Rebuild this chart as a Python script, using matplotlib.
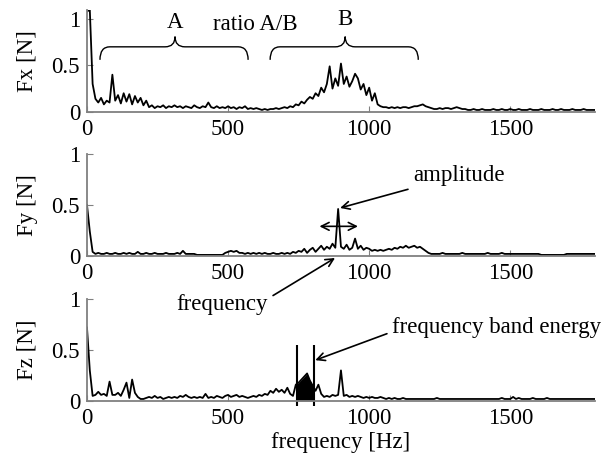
import numpy as np
import matplotlib
matplotlib.use('Agg')
import matplotlib.pyplot as plt
from matplotlib.path import Path
from matplotlib.patches import PathPatch

plt.rcParams['font.family'] = ['Liberation Serif', 'DejaVu Serif']
plt.rcParams['font.size'] = 16.5

# frequency grid [Hz], one value every 10 Hz
freq = np.arange(0, 1801, 10)

# Fx spectrum [N]
fx = [1.08, 1.10, 0.30, 0.14, 0.10, 0.15, 0.08, 0.12, 0.10, 0.40,
      0.12, 0.18, 0.09, 0.20, 0.11, 0.19, 0.08, 0.17, 0.10, 0.15,
      0.07, 0.12, 0.05, 0.07, 0.04, 0.06, 0.05, 0.07, 0.04, 0.06,
      0.05, 0.07, 0.05, 0.06, 0.04, 0.06, 0.05, 0.04, 0.07, 0.05,
      0.04, 0.06, 0.05, 0.10, 0.05, 0.04, 0.06, 0.04, 0.05, 0.04,
      0.06, 0.04, 0.05, 0.03, 0.05, 0.04, 0.06, 0.03, 0.04, 0.03,
      0.04, 0.03, 0.02, 0.03, 0.02, 0.03, 0.03, 0.04, 0.03, 0.04,
      0.05, 0.04, 0.06, 0.05, 0.08, 0.07, 0.11, 0.09, 0.13, 0.16,
      0.14, 0.20, 0.17, 0.26, 0.21, 0.30, 0.49, 0.25, 0.36, 0.28,
      0.52, 0.30, 0.38, 0.27, 0.33, 0.41, 0.36, 0.24, 0.30, 0.18,
      0.26, 0.12, 0.20, 0.08, 0.06, 0.05, 0.05, 0.04, 0.05, 0.04,
      0.05, 0.04, 0.05, 0.05, 0.04, 0.05, 0.06, 0.06, 0.07, 0.08,
      0.06, 0.05, 0.04, 0.03, 0.03, 0.04, 0.03, 0.04, 0.04, 0.03,
      0.04, 0.05, 0.04, 0.03, 0.03, 0.02, 0.02, 0.03, 0.02, 0.02,
      0.03, 0.02, 0.02, 0.02, 0.03, 0.02, 0.02, 0.03, 0.02, 0.02,
      0.03, 0.02, 0.02, 0.03, 0.02, 0.02, 0.02, 0.03, 0.02, 0.02,
      0.02, 0.03, 0.02, 0.02, 0.02, 0.03, 0.02, 0.02, 0.03, 0.02,
      0.02, 0.02, 0.03, 0.02, 0.02, 0.02, 0.03, 0.02, 0.02, 0.02,
      0.02]

# Fy spectrum [N]
fy = [0.50, 0.24, 0.04, 0.02, 0.03, 0.02, 0.02, 0.03, 0.02, 0.02,
      0.03, 0.02, 0.02, 0.03, 0.02, 0.03, 0.02, 0.02, 0.04, 0.02,
      0.02, 0.03, 0.02, 0.02, 0.03, 0.02, 0.02, 0.02, 0.03, 0.02,
      0.02, 0.02, 0.03, 0.02, 0.05, 0.02, 0.02, 0.02, 0.02, 0.01,
      0.01, 0.01, 0.01, 0.01, 0.01, 0.01, 0.01, 0.01, 0.01, 0.03,
      0.04, 0.05, 0.04, 0.05, 0.03, 0.03, 0.02, 0.03, 0.02, 0.03,
      0.02, 0.03, 0.02, 0.03, 0.02, 0.02, 0.03, 0.02, 0.02, 0.03,
      0.02, 0.03, 0.02, 0.04, 0.03, 0.05, 0.04, 0.07, 0.03, 0.06,
      0.08, 0.04, 0.07, 0.10, 0.06, 0.09, 0.07, 0.12, 0.08, 0.46,
      0.09, 0.07, 0.11, 0.06, 0.08, 0.17, 0.07, 0.10, 0.06, 0.08,
      0.07, 0.05, 0.06, 0.05, 0.06, 0.05, 0.06, 0.07, 0.06, 0.08,
      0.07, 0.09, 0.08, 0.10, 0.08, 0.09, 0.10, 0.08, 0.09, 0.07,
      0.05, 0.03, 0.02, 0.02, 0.02, 0.02, 0.03, 0.02, 0.02, 0.02,
      0.02, 0.02, 0.02, 0.03, 0.02, 0.02, 0.02, 0.02, 0.02, 0.02,
      0.02, 0.02, 0.03, 0.02, 0.02, 0.02, 0.02, 0.03, 0.02, 0.02,
      0.02, 0.02, 0.02, 0.02, 0.02, 0.02, 0.02, 0.02, 0.02, 0.02,
      0.02, 0.01, 0.01, 0.01, 0.01, 0.01, 0.01, 0.01, 0.01, 0.01,
      0.02, 0.02, 0.02, 0.02, 0.02, 0.02, 0.02, 0.02, 0.02, 0.02,
      0.02]

# Fz spectrum [N]
fz = [0.72, 0.30, 0.05, 0.06, 0.09, 0.06, 0.07, 0.05, 0.19, 0.06,
      0.06, 0.08, 0.05, 0.11, 0.18, 0.03, 0.21, 0.08, 0.04, 0.02,
      0.02, 0.03, 0.04, 0.03, 0.05, 0.03, 0.04, 0.02, 0.03, 0.04,
      0.03, 0.04, 0.03, 0.05, 0.04, 0.06, 0.04, 0.03, 0.04, 0.03,
      0.04, 0.03, 0.07, 0.03, 0.04, 0.03, 0.05, 0.04, 0.03, 0.05,
      0.06, 0.04, 0.05, 0.06, 0.04, 0.05, 0.04, 0.03, 0.04, 0.05,
      0.04, 0.06, 0.05, 0.07, 0.06, 0.10, 0.08, 0.12, 0.09, 0.11,
      0.08, 0.13, 0.07, 0.05, 0.16, 0.18, 0.21, 0.24, 0.27, 0.20,
      0.15, 0.10, 0.16, 0.07, 0.04, 0.05, 0.04, 0.06, 0.05, 0.06,
      0.30, 0.05, 0.06, 0.04, 0.05, 0.04, 0.05, 0.04, 0.03, 0.04,
      0.03, 0.04, 0.03, 0.03, 0.04, 0.03, 0.02, 0.03, 0.02, 0.03,
      0.02, 0.02, 0.03, 0.02, 0.02, 0.02, 0.02, 0.02, 0.02, 0.02,
      0.02, 0.02, 0.02, 0.02, 0.03, 0.02, 0.02, 0.02, 0.02, 0.02,
      0.02, 0.02, 0.02, 0.02, 0.02, 0.02, 0.02, 0.02, 0.02, 0.02,
      0.02, 0.02, 0.02, 0.02, 0.02, 0.02, 0.02, 0.03, 0.02, 0.02,
      0.02, 0.04, 0.02, 0.03, 0.02, 0.02, 0.02, 0.02, 0.03, 0.02,
      0.02, 0.02, 0.02, 0.03, 0.02, 0.02, 0.02, 0.02, 0.02, 0.02,
      0.02, 0.02, 0.02, 0.02, 0.02, 0.02, 0.02, 0.02, 0.02, 0.02,
      0.02]

ylabels = ['Fx [N]', 'Fy [N]', 'Fz [N]']
band = (743, 804)   # frequency band in Fz


def brace(ax, x0, x1, xm, y_end, y_line, y_tip, w):
    verts = [(x0, y_end), (x0, y_line), (x0 + w, y_line),
             (xm - w, y_line),
             (xm, y_line), (xm, y_tip),
             (xm, y_line), (xm + w, y_line),
             (x1 - w, y_line),
             (x1, y_line), (x1, y_end)]
    codes = [Path.MOVETO, Path.CURVE3, Path.CURVE3,
             Path.LINETO,
             Path.CURVE3, Path.CURVE3,
             Path.CURVE3, Path.CURVE3,
             Path.LINETO,
             Path.CURVE3, Path.CURVE3]
    ax.add_patch(PathPatch(Path(verts, codes), fill=False, lw=1.0,
                           edgecolor='black', clip_on=False))


fig = plt.figure(figsize=(6.04, 4.62), dpi=100)
bottoms = [0.758, 0.446, 0.132]
axes = [fig.add_axes([0.144, b, 0.841, 0.221]) for b in bottoms]

for ax, y, lab in zip(axes, [fx, fy, fz], ylabels):
    ax.set_facecolor('none')
    ax.plot(freq, y, color='black', lw=1.3)
    ax.set_xlim(0, 1800)
    ax.set_ylim(0, 1)
    ax.set_xticks([0, 500, 1000, 1500])
    ax.set_yticks([0, 0.5, 1])
    ax.set_yticklabels(['0', '0.5', '1'])
    ax.set_ylabel(lab, labelpad=10)
    for s in ['top', 'right']:
        ax.spines[s].set_visible(False)
    for s in ['left', 'bottom']:
        ax.spines[s].set_color('#808080')
        ax.spines[s].set_linewidth(1.3)
    ax.tick_params(direction='in', length=4, color='#808080', pad=5)

axes[0].set_ylim(0, 1.1)
axes[2].set_xlabel('frequency [Hz]', labelpad=2)

# top panel: braces A and B
ax = axes[0]
brace(ax, 46, 571, 312, 0.56, 0.70, 0.81, 35)
brace(ax, 649, 1174, 915, 0.56, 0.70, 0.81, 35)
ax.text(312, 0.96, 'A', ha='center', va='center')
ax.text(915, 0.99, 'B', ha='center', va='center')
ax.text(596, 0.94, 'ratio A/B', ha='center', va='center')

# middle panel: amplitude / frequency
ax = axes[1]
ax.annotate('', xy=(814, 0.29), xytext=(970, 0.29),
            arrowprops=dict(arrowstyle='<->', lw=1.2, color='black',
                            mutation_scale=14))
ax.annotate('amplitude', xy=(897, 0.47), xytext=(1156, 0.79),
            ha='left', va='center',
            arrowprops=dict(arrowstyle='->', lw=1.2, color='black',
                            mutation_scale=14, shrinkA=2, shrinkB=0))
ax.annotate('frequency', xy=(879, -0.02), xytext=(479, -0.48),
            ha='center', va='center', annotation_clip=False,
            arrowprops=dict(arrowstyle='->', lw=1.2, color='black',
                            mutation_scale=14, shrinkA=2, shrinkB=0,
                            relpos=(1.0, 0.8)))

# bottom panel: frequency band energy
ax = axes[2]
fz_arr = np.array(fz)
inband = (freq >= band[0] - 3) & (freq <= band[1] + 3)
ax.fill_between(freq, 0, fz_arr, where=inband, color='black', lw=0)
ax.vlines(band, -0.05, 0.55, color='black', lw=1.5, clip_on=False)
ax.annotate('frequency band energy', xy=(809, 0.40), xytext=(1082, 0.72),
            ha='left', va='center',
            arrowprops=dict(arrowstyle='->', lw=1.2, color='black',
                            mutation_scale=14, shrinkA=2, shrinkB=0,
                            relpos=(0.0, 0.3)))

fig.savefig('out.png', dpi=100)
